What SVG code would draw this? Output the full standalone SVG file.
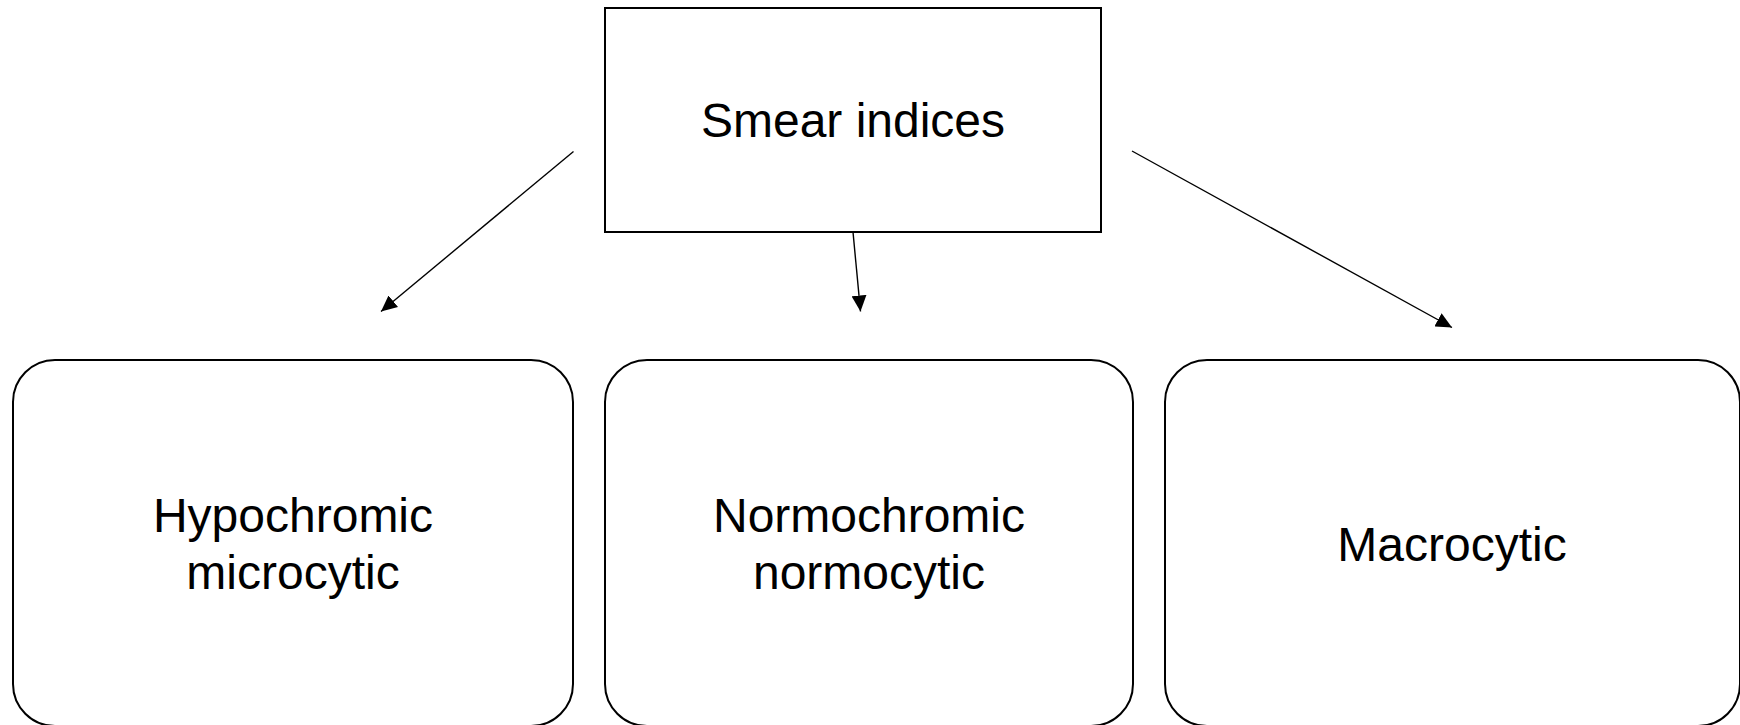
<svg xmlns="http://www.w3.org/2000/svg" width="1740" height="725" viewBox="0 0 1740 725">
<style>
.box{fill:#fff;stroke:#000;stroke-width:2}
.lbl{font-family:"Liberation Sans",Arial,sans-serif;font-size:48px;fill:#000;text-anchor:middle}
.conn{stroke:#000;stroke-width:1.4;fill:none;marker-end:url(#arr)}
</style>
<defs>
<marker id="arr" markerUnits="userSpaceOnUse" markerWidth="16" markerHeight="15" refX="16" refY="7.5" orient="auto">
<path d="M0,0 L16,7.5 L0,15 z" fill="#000"/>
</marker>
</defs>
<rect width="1740" height="725" fill="#fff"/>
<g id="connectors">
<line class="conn" x1="573.5" y1="151.5" x2="381" y2="311.5"/>
<line class="conn" x1="853" y1="232" x2="860.5" y2="311.5"/>
<line class="conn" x1="1132" y1="151" x2="1452" y2="327.5"/>
</g>
<g id="smear">
<rect class="box" x="605" y="8" width="496" height="224"/>
<text class="lbl" x="853" y="137">Smear indices</text>
</g>
<g id="hypo">
<rect class="box" x="13" y="360" width="560" height="366" rx="42" ry="42"/>
<text class="lbl" x="293" y="532">Hypochromic</text>
<text class="lbl" x="293" y="589">microcytic</text>
</g>
<g id="normo">
<rect class="box" x="605" y="360" width="528" height="366" rx="42" ry="42"/>
<text class="lbl" x="869" y="532">Normochromic</text>
<text class="lbl" x="869" y="589">normocytic</text>
</g>
<g id="macro">
<rect class="box" x="1165" y="360" width="575" height="366" rx="42" ry="42"/>
<text class="lbl" x="1452" y="561">Macrocytic</text>
</g>
</svg>
